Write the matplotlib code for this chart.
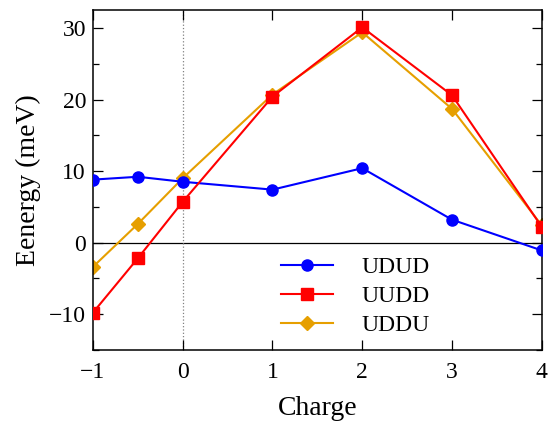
import matplotlib
matplotlib.use('Agg')
import matplotlib.pyplot as plt
from matplotlib.ticker import MultipleLocator

plt.rcParams['font.family'] = 'Liberation Serif'

charge = [-1, -0.5, 0, 1, 2, 3, 4]
udud = [8.8, 9.2, 8.5, 7.4, 10.4, 3.2, -1.1]
uudd = [-9.8, -2.2, 5.7, 20.4, 30.1, 20.6, 2.2]
uddu = [-3.4, 2.6, 9.0, 20.7, 29.4, 18.7, 2.4]

fig = plt.figure(figsize=(5.5, 4.22), dpi=100)
ax = fig.add_axes([0.169, 0.171, 0.816, 0.805])

ax.axhline(0, color='black', lw=0.9, zorder=1)
ax.axvline(0, color='gray', lw=0.9, ls=':', zorder=1)

ax.plot(charge, udud, '-o', color='#0000ff', lw=1.5, ms=8, label='UDUD', zorder=3)
ax.plot(charge, uudd, '-s', color='#ff0000', lw=1.5, ms=8, label='UUDD', zorder=3)
ax.plot(charge, uddu, '-D', color='#e69f00', lw=1.5, ms=7, label='UDDU', zorder=2)

ax.set_xlim(-1, 4)
ax.set_ylim(-15, 32.5)
ax.set_xticks([-1, 0, 1, 2, 3, 4])
ax.set_xticklabels(['\u22121', '0', '1', '2', '3', '4'])
ax.set_yticks([-10, 0, 10, 20, 30])
ax.set_yticklabels(['\u221210', '0', '10', '20', '30'])
ax.yaxis.set_minor_locator(MultipleLocator(5))
ax.tick_params(which='both', direction='in', top=True, right=True, labelsize=17)
ax.tick_params(which='major', length=7, width=0.9)
ax.tick_params(which='minor', length=4, width=0.9)
ax.tick_params(axis='x', which='major', pad=9)
ax.tick_params(axis='y', which='major', pad=5)
for s in ax.spines.values():
    s.set_linewidth(1.1)

ax.set_xlabel('Charge', fontsize=20, labelpad=9)
ax.set_ylabel('Eenergy (meV)', fontsize=20, labelpad=6)

ax.legend(loc='upper left', bbox_to_anchor=(0.419, 0.275), frameon=False, fontsize=17,
          handlelength=2.2, labelspacing=0.32, handletextpad=1.2,
          borderpad=0, borderaxespad=0)

fig.savefig('out.png', dpi=100)
